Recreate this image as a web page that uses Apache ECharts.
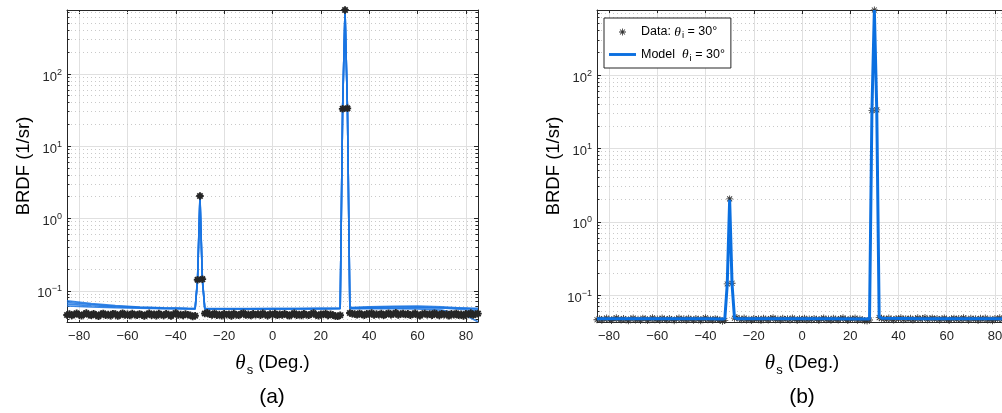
<!DOCTYPE html>
<html>
<head>
<meta charset="utf-8">
<script src="https://cdn.jsdelivr.net/npm/echarts@6.0.0/dist/echarts.min.js"></script>
<style>html,body{margin:0;padding:0;background:#fff;}#c{width:1002px;height:413px;}</style>
</head>
<body>
<div id="c"></div>
<script>
// ---------- data ----------
const thetaS = [
 -85,-84,-83,-82,-81,-80,-79,-78,-77,-76,
 -75,-74,-73,-72,-71,-70,-69,-68,-67,-66,
 -65,-64,-63,-62,-61,-60,-59,-58,-57,-56,
 -55,-54,-53,-52,-51,-50,-49,-48,-47,-46,
 -45,-44,-43,-42,-41,-40,-39,-38,-37,-36,
 -35,-34,-33,-32,-31,-30,-29,-28,-27,-26,
 -25,-24,-23,-22,-21,-20,-19,-18,-17,-16,
 -15,-14,-13,-12,-11,-10,-9,-8,-7,-6,
 -5,-4,-3,-2,-1,0,1,2,3,4,
 5,6,7,8,9,10,11,12,13,14,
 15,16,17,18,19,20,21,22,23,24,
 25,26,27,28,29,30,31,32,33,34,
 35,36,37,38,39,40,41,42,43,44,
 45,46,47,48,49,50,51,52,53,54,
 55,56,57,58,59,60,61,62,63,64,
 65,66,67,68,69,70,71,72,73,74,
 75,76,77,78,79,80,81,82,83,84,
 85];
const measuredBRDF = [
 0.0462,0.0478,0.0455,0.0470,0.0489,0.0466,0.0451,0.0474,0.0492,0.0468,
 0.0457,0.0481,0.0463,0.0446,0.0472,0.0487,0.0459,0.0469,0.0452,0.0483,
 0.0476,0.0449,0.0465,0.0490,0.0461,0.0473,0.0454,0.0486,0.0467,0.0458,
 0.0479,0.0464,0.0448,0.0471,0.0488,0.0460,0.0475,0.0453,0.0484,0.0466,
 0.0456,0.0480,0.0469,0.0447,0.0474,0.0491,0.0462,0.0470,0.0455,0.0478,
 0.0467,0.0459,0.0441,0.0452,0.142,2.05,0.145,0.0485,0.0496,0.0472,
 0.0463,0.0487,0.0458,0.0470,0.0452,0.0481,0.0466,0.0475,0.0449,0.0484,
 0.0468,0.0457,0.0479,0.0490,0.0461,0.0472,0.0454,0.0482,0.0465,0.0476,
 0.0459,0.0488,0.0470,0.0451,0.0477,0.0466,0.0485,0.0457,0.0473,0.0462,
 0.0480,0.0468,0.0450,0.0474,0.0489,0.0460,0.0471,0.0456,0.0483,0.0467,
 0.0458,0.0478,0.0491,0.0464,0.0452,0.0475,0.0469,0.0486,0.0455,0.0472,
 0.0461,0.0447,0.0443,0.0458,33.0,770,33.5,0.0493,0.0482,0.0476,
 0.0465,0.0487,0.0470,0.0459,0.0481,0.0474,0.0492,0.0463,0.0478,0.0468,
 0.0484,0.0457,0.0473,0.0490,0.0466,0.0479,0.0495,0.0462,0.0476,0.0486,
 0.0469,0.0481,0.0458,0.0474,0.0488,0.0464,0.0452,0.0477,0.0485,0.0467,
 0.0479,0.0460,0.0490,0.0471,0.0455,0.0483,0.0468,0.0476,0.0450,0.0482,
 0.0465,0.0487,0.0457,0.0473,0.0448,0.0480,0.0469,0.0491,0.0461,0.0476,
 0.0484];

// panel (a): several model fits
const modelAX = [-85,-75,-65,-55,-45,-35,-32,-31,-30,-29,-28,-20,-10,0,10,20,28,29,30,31,32,40,50,60,70,80,85];
const modelA1 = [0.0725,0.0665,0.0625,0.0598,0.0582,0.0572,0.0570,0.150,2.10,0.150,0.0570,0.0568,0.0567,0.0566,0.0566,0.0567,0.0568,33.5,770,33.5,0.0572,0.0575,0.0578,0.0580,0.0578,0.0575,0.0573];
const modelA2 = [0.0690,0.0645,0.0612,0.0590,0.0577,0.0568,0.0566,0.145,2.05,0.145,0.0566,0.0565,0.0565,0.0566,0.0568,0.0572,0.0576,33.0,768,33.0,0.0585,0.0600,0.0612,0.0615,0.0600,0.0572,0.0552];
const modelA3 = [0.0655,0.0622,0.0598,0.0582,0.0571,0.0565,0.0563,0.140,2.00,0.140,0.0563,0.0562,0.0562,0.0563,0.0565,0.0568,0.0572,32.5,765,32.5,0.0578,0.0590,0.0598,0.0596,0.0580,0.0548,0.0520];
const modelA4 = [0.0615,0.0598,0.0584,0.0574,0.0567,0.0562,0.0561,0.135,1.95,0.135,0.0561,0.0560,0.0560,0.0561,0.0562,0.0563,0.0565,32.0,760,32.0,0.0566,0.0567,0.0566,0.0560,0.0540,0.0455,0.0372];

// panel (b): single model fit
const modelBX = [-85,-60,-40,-33,-32,-31,-30,-29,-28,-27,-10,10,27,28,29,30,31,32,33,50,70,85];
const modelBY = [0.0478,0.0476,0.0475,0.0474,0.0475,0.140,2.00,0.140,0.0490,0.0478,0.0476,0.0475,0.0474,0.0472,33.0,770,33.0,0.0505,0.0485,0.0477,0.0476,0.0475];

// axis ticks
const yMinorTicks = [0.04,0.05,0.06,0.07,0.08,0.09,0.2,0.3,0.4,0.5,0.6,0.7,0.8,0.9,2,3,4,5,6,7,8,9,20,30,40,50,60,70,80,90,200,300,400,500,600,700];
const yRangeA = [0.037, 770];
const yRangeB = [0.043, 770];
const xRange = [-85, 85];

// ---------- chart ----------
const FONT = '"Liberation Sans", Arial, Helvetica, sans-serif';
const SERIF = '"Liberation Serif", "DejaVu Serif", serif';
const AX = '#262626';
const pts = (xs, ys) => xs.map((x, i) => [x, ys[i]]);

const STAR_THIN = 'path://M-1.2,-10H1.2V10H-1.2Z M-10,-1.2H10V1.2H-10Z M-7.92,-6.22L-6.22,-7.92L7.92,6.22L6.22,7.92Z M-7.92,6.22L6.22,-7.92L7.92,-6.22L-6.22,7.92Z';
const STAR_FAT = 'path://M-2.5,-10H2.5V10H-2.5Z M-10,-2.5H10V2.5H-10Z M-8.84,-5.3L-5.3,-8.84L8.84,5.3L5.3,8.84Z M-8.84,5.3L5.3,-8.84L8.84,-5.3L-5.3,8.84Z';

function fmtX(v) { return v < 0 ? '\u2212' + (-v) : '' + v; }
function fmtY(v) {
  const e = Math.log10(v), r = Math.round(e);
  if (Math.abs(e - r) > 1e-6) return '';
  return '{b|10}{p|' + (r < 0 ? '\u2212' + (-r) : r) + '}';
}

function xAxes(g) {
  return [{
    type: 'value', gridIndex: g, min: xRange[0], max: xRange[1], splitNumber: 8, position: 'bottom',
    axisLine: { show: true, onZero: false, lineStyle: { color: AX, width: 1 } },
    axisTick: { show: true, inside: true, length: 4, lineStyle: { color: AX } },
    axisLabel: { show: true, color: AX, fontSize: 13, fontFamily: FONT, margin: 8, formatter: fmtX, showMinLabel: false, showMaxLabel: false },
    splitLine: { show: true, lineStyle: { color: '#e0e0e0', width: 1 } },
    name: '{t|\u03b8}{s|s}{n| (Deg.)}', nameLocation: 'middle', nameGap: 27,
    nameTextStyle: { color: '#000', fontFamily: FONT, fontSize: 18.5,
      rich: { t: { fontFamily: SERIF, fontStyle: 'italic', fontSize: 21, color: '#000' },
              s: { fontFamily: FONT, fontSize: 13, color: '#000', padding: [15, 0, 0, 1] },
              n: { fontFamily: FONT, fontSize: 18.5, color: '#000' } } }
  }, {
    type: 'value', gridIndex: g, min: xRange[0], max: xRange[1], splitNumber: 8, position: 'top',
    axisLine: { show: true, onZero: false, lineStyle: { color: AX, width: 1 } },
    axisTick: { show: true, inside: true, length: 4, lineStyle: { color: AX } },
    axisLabel: { show: false }, splitLine: { show: false }
  }];
}
function yAxes(g, range) {
  return [{
    type: 'log', logBase: 10, gridIndex: g, min: range[0], max: range[1], position: 'left',
    axisLine: { show: true, onZero: false, lineStyle: { color: AX, width: 1 } },
    axisTick: { show: true, inside: true, length: 4, lineStyle: { color: AX } },
    axisLabel: { show: true, color: AX, fontFamily: FONT, fontSize: 13, margin: 5, formatter: fmtY,
      rich: { b: { fontFamily: FONT, fontSize: 13, color: AX, padding: [6, 0, 0, 0] },
              p: { fontFamily: FONT, fontSize: 9, color: AX, padding: [0, 0, 4, 0] } } },
    splitLine: { show: true, lineStyle: { color: '#e0e0e0', width: 1 } },
    name: 'BRDF (1/sr)', nameLocation: 'middle', nameGap: 34,
    nameTextStyle: { color: '#000', fontFamily: FONT, fontSize: 18.5 }
  }, {
    type: 'log', logBase: 10, gridIndex: g, min: range[0], max: range[1], position: 'right',
    axisLine: { show: true, onZero: false, lineStyle: { color: AX, width: 1 } },
    axisTick: { show: true, inside: true, length: 4, lineStyle: { color: AX } },
    axisLabel: { show: false }, splitLine: { show: false }
  }];
}

function minorGrid(params, api) {
  const cs = params.coordSys;
  const p = api.coord([api.value(0), api.value(1)]);
  let y = p[1];
  if (y < cs.y + 0.5 || y > cs.y + cs.height - 0.5) return null;
  y = Math.round(y - 0.5) + 0.5;
  return { type: 'group', children: [
    { type: 'line', shape: { x1: cs.x, y1: y, x2: cs.x + cs.width, y2: y }, style: { stroke: '#c9c9c9', lineWidth: 1, lineDash: [1, 3] } },
    { type: 'line', shape: { x1: cs.x, y1: y, x2: cs.x + 2.5, y2: y }, style: { stroke: AX, lineWidth: 1 } },
    { type: 'line', shape: { x1: cs.x + cs.width - 2.5, y1: y, x2: cs.x + cs.width, y2: y }, style: { stroke: AX, lineWidth: 1 } }
  ] };
}
const minorData = yMinorTicks.map(v => [0, v]);

function modelLineA(name, ys) {
  return { name: name, type: 'line', xAxisIndex: 0, yAxisIndex: 0, data: pts(modelAX, ys), symbol: 'none',
    lineStyle: { color: '#1a74e2', width: 1.6, opacity: 0.85 }, z: 3, silent: true };
}

const option = {
  animation: false,
  backgroundColor: '#fff',
  textStyle: { fontFamily: FONT },
  title: [
    { text: '(a)', left: 272, top: 387, textAlign: 'center', padding: 0, textStyle: { fontSize: 21, fontWeight: 'normal', color: '#000', fontFamily: FONT } },
    { text: '(b)', left: 802, top: 387, textAlign: 'center', padding: 0, textStyle: { fontSize: 21, fontWeight: 'normal', color: '#000', fontFamily: FONT } }
  ],
  grid: [
    { left: 67, top: 10, width: 411, height: 312, outerBoundsMode: 'none', containLabel: false },
    { left: 597, top: 10, width: 410, height: 312, outerBoundsMode: 'none', containLabel: false }
  ],
  xAxis: xAxes(0).concat(xAxes(1)),
  yAxis: yAxes(0, yRangeA).concat(yAxes(1, yRangeB)),
  legend: {
    data: [{ name: 'Data' }, { name: 'Model', icon: 'path://M0,0H28V3H0Z' }],
    orient: 'vertical', left: 604, top: 18,
    padding: [7, 6, 5, 5], itemGap: 7, itemWidth: 27, itemHeight: 7,
    backgroundColor: '#fff', borderColor: AX, borderWidth: 1, borderRadius: 0,
    textStyle: { fontSize: 12.5, color: '#000', fontFamily: FONT,
      rich: { t: { fontFamily: SERIF, fontStyle: 'italic', fontSize: 13.5, color: '#000' },
              s: { fontFamily: FONT, fontSize: 9.5, color: '#000', padding: [7, 0, 0, 1] } } },
    formatter: function (n) { return n === 'Data' ? 'Data: {t|\u03b8}{s|i} = 30\u00b0' : 'Model  {t|\u03b8}{s|i} = 30\u00b0'; },
    selectedMode: false
  },
  series: [
    { name: 'minorA', type: 'custom', xAxisIndex: 0, yAxisIndex: 0, data: minorData, renderItem: minorGrid, z: 1, silent: true },
    modelLineA('modelA1', modelA1),
    modelLineA('modelA2', modelA2),
    modelLineA('modelA3', modelA3),
    modelLineA('modelA4', modelA4),
    { name: 'dataA', type: 'scatter', xAxisIndex: 0, yAxisIndex: 0, data: pts(thetaS, measuredBRDF), symbol: STAR_FAT, symbolSize: 7.5,
      itemStyle: { color: '#262626', opacity: 1 }, clip: false, z: 5, silent: true },
    { name: 'minorB', type: 'custom', xAxisIndex: 2, yAxisIndex: 2, data: minorData, renderItem: minorGrid, z: 1, silent: true },
    { name: 'Data', type: 'scatter', xAxisIndex: 2, yAxisIndex: 2, data: pts(thetaS, measuredBRDF), symbol: STAR_THIN, symbolSize: 7,
      itemStyle: { color: '#333333', opacity: 1 }, clip: false, z: 3, silent: true },
    { name: 'Model', type: 'line', xAxisIndex: 2, yAxisIndex: 2, data: pts(modelBX, modelBY), symbol: 'none',
      lineStyle: { color: '#0a6fe0', width: 3 }, itemStyle: { color: '#0a6fe0' }, z: 4, silent: true }
  ]
};
const chart = echarts.init(document.getElementById('c'), null, { renderer: 'canvas' });
chart.setOption(option);
</script>
</body>
</html>
